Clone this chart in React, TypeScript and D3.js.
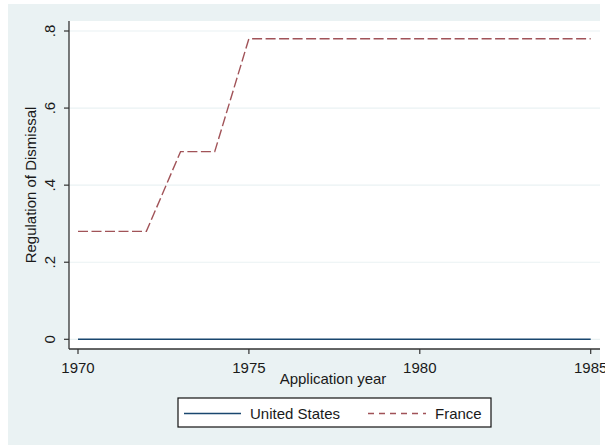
import React from "react";
import * as d3 from "d3";

const years = [1970, 1971, 1972, 1973, 1974, 1975, 1976, 1977, 1978, 1979, 1980, 1981, 1982, 1983, 1984, 1985];
const usValues = [0, 0, 0, 0, 0, 0, 0, 0, 0, 0, 0, 0, 0, 0, 0, 0];
const franceValues = [0.28, 0.28, 0.28, 0.487, 0.487, 0.78, 0.78, 0.78, 0.78, 0.78, 0.78, 0.78, 0.78, 0.78, 0.78, 0.78];
const xTicks = [1970, 1975, 1980, 1985];
const yTicks = [0, 0.2, 0.4, 0.6, 0.8];
const yTickLabels = ["0", ".2", ".4", ".6", ".8"];
const seriesNames = ["United States", "France"];

const W = 605;
const H = 445;
const plot = { left: 69, top: 21, right: 600, bottom: 349 };
const FONT = "'Liberation Sans', Arial, sans-serif";
const TEXT = "#1a1a1a";
const BG = "#eaf2f3";
const US_COLOR = "#1a476f";
const FR_COLOR = "#90353b";

export default function App() {
  const x = d3.scaleLinear().domain([1970, 1985]).range([78, 590.7]);
  const y = d3.scaleLinear().domain([0, 0.8]).range([339.3, 31]);

  const line = d3
    .line<[number, number]>()
    .x((d) => x(d[0]))
    .y((d) => y(d[1]));

  const usPath = line(years.map((yr, i) => [yr, usValues[i]] as [number, number])) || "";
  const frPath = line(years.map((yr, i) => [yr, franceValues[i]] as [number, number])) || "";

  return (
    <svg
      width={W}
      height={H}
      style={{ position: "absolute", left: 0, top: 0, background: "#fff" }}
      fontFamily={FONT}
    >
      <rect x={8} y={4} width={592} height={441} fill={BG} />
      <rect x={plot.left} y={plot.top} width={plot.right - plot.left} height={plot.bottom - plot.top} fill="#fff" />

      {yTicks.map((t) => (
        <line key={"g" + t} x1={plot.left} x2={plot.right} y1={y(t)} y2={y(t)} stroke={BG} strokeWidth={1.2} />
      ))}

      <path d={usPath} fill="none" stroke={US_COLOR} strokeWidth={1.4} />
      <path d={frPath} fill="none" stroke={FR_COLOR} strokeWidth={1.4} strokeDasharray="10,3.5" opacity={0.85} />

      {/* axes */}
      <line x1={plot.left} x2={plot.left} y1={plot.top} y2={plot.bottom} stroke="#333" strokeWidth={1.3} />
      <line x1={plot.left} x2={plot.right} y1={plot.bottom} y2={plot.bottom} stroke="#333" strokeWidth={1.3} />

      {yTicks.map((t, i) => (
        <g key={"y" + t}>
          <line x1={plot.left - 5} x2={plot.left} y1={y(t)} y2={y(t)} stroke="#333" strokeWidth={1.2} />
          <text
            transform={`translate(55,${y(t)}) rotate(-90)`}
            textAnchor="middle"
            fontSize={15}
            fill={TEXT}
          >
            {yTickLabels[i]}
          </text>
        </g>
      ))}

      {xTicks.map((t) => (
        <g key={"x" + t}>
          <line x1={x(t)} x2={x(t)} y1={plot.bottom} y2={plot.bottom + 5} stroke="#333" strokeWidth={1.2} />
          <text x={x(t)} y={373} textAnchor="middle" fontSize={15} fill={TEXT}>
            {t}
          </text>
        </g>
      ))}

      <text x={333} y={384} textAnchor="middle" fontSize={15} fill={TEXT}>
        Application year
      </text>
      <text transform={`translate(36,185) rotate(-90)`} textAnchor="middle" fontSize={15} fill={TEXT}>
        Regulation of Dismissal
      </text>

      {/* legend */}
      <rect x={178} y={398} width={313} height={29} fill="#fff" stroke="#111" strokeWidth={1.2} />
      <line x1={184} x2={241} y1={413.5} y2={413.5} stroke={US_COLOR} strokeWidth={1.4} />
      <text x={250} y={418.5} fontSize={15} fill={TEXT}>
        {seriesNames[0]}
      </text>
      <line x1={368} x2={426} y1={413.5} y2={413.5} stroke={FR_COLOR} strokeWidth={1.4} strokeDasharray="6,5" opacity={0.85} />
      <text x={435} y={418.5} fontSize={15} fill={TEXT}>
        {seriesNames[1]}
      </text>
    </svg>
  );
}
